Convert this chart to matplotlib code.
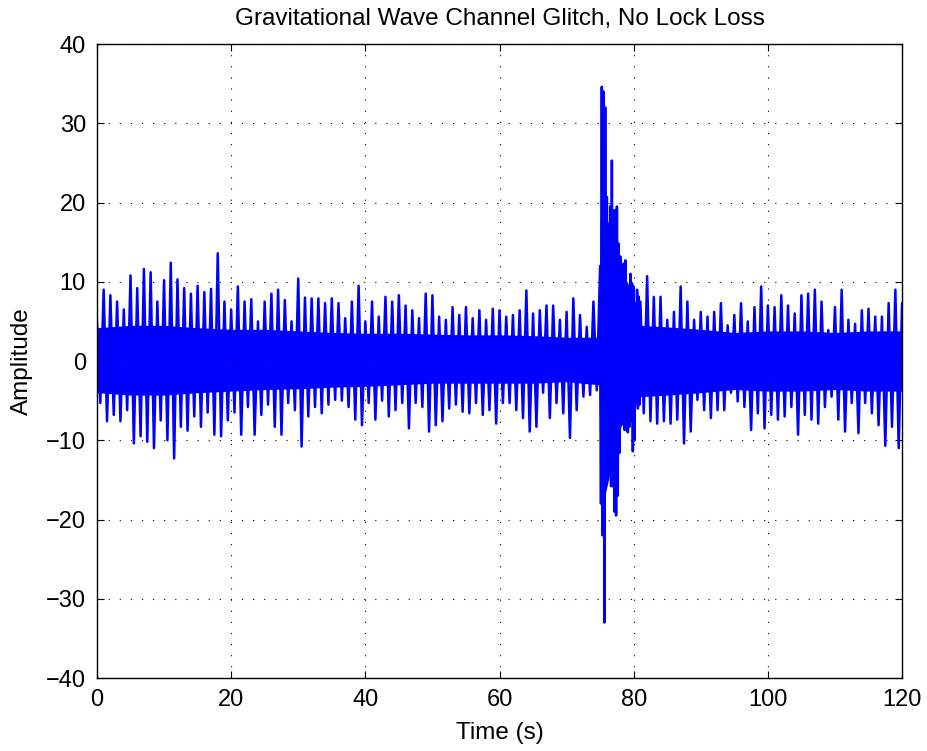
import matplotlib
matplotlib.use("Agg")
import matplotlib.pyplot as plt
import numpy as np

# peak (upper) and trough (lower) amplitude per 1 s window
calm_t = np.arange(0, 75)
calm_upper = [5.0, 9.0, 8.3, 7.5, 6.5, 10.8, 9.2, 11.6, 11.2, 7.5,
              10.2, 12.4, 10.3, 9.2, 8.5, 9.5, 8.7, 9.1, 13.6, 7.5,
              6.5, 9.4, 7.5, 7.8, 5.0, 7.5, 8.5, 9.0, 7.7, 5.0,
              10.4, 8.0, 7.9, 7.9, 7.3, 7.9, 7.3, 5.4, 7.5, 9.5,
              5.0, 7.5, 5.6, 8.1, 7.5, 8.3, 7.0, 6.4, 5.4, 8.5,
              8.3, 5.6, 5.2, 6.8, 5.8, 6.8, 5.4, 6.4, 5.2, 6.6,
              6.4, 5.6, 5.8, 6.4, 8.9, 6.0, 6.4, 7.0, 7.0, 5.2,
              6.2, 7.9, 5.8, 4.3, 7.5]
calm_lower = [-5.3, -7.6, -6.8, -7.6, -6.2, -10.4, -9.5, -10.2, -11.0, -7.5,
              -10.0, -12.3, -8.3, -8.8, -7.0, -8.3, -6.5, -9.3, -9.5, -7.5,
              -6.5, -9.3, -5.8, -9.3, -6.8, -5.5, -8.3, -9.3, -5.3, -6.2,
              -10.8, -7.0, -5.8, -6.6, -5.5, -4.9, -5.0, -5.8, -7.4, -8.1,
              -5.3, -7.4, -5.0, -7.0, -6.2, -5.3, -8.5, -5.3, -5.8, -8.9,
              -8.1, -7.6, -6.0, -5.5, -6.4, -6.6, -5.3, -6.8, -6.2, -7.9,
              -5.3, -5.3, -6.2, -7.2, -8.9, -8.3, -4.0, -7.2, -5.3, -6.6,
              -9.7, -6.2, -4.5, -4.3, -3.7]

# glitch, 0.25 s windows
glitch_t = np.arange(75.0, 81.0, 0.25)
glitch_upper = [12.0, 34.6, 34.0, 32.0, 20.7, 15.7, 19.5, 25.3, 19.0, 19.0,
                19.5, 14.8, 13.2, 10.6, 12.3, 12.7, 9.8, 9.4, 11.0, 9.8,
                9.4, 7.3, 9.0, 8.1]
glitch_lower = [-18.0, -22.0, -33.0, -15.0, -10.8, -13.7, -15.8, -15.8, -19.0, -19.5,
                -17.0, -11.6, -7.0, -6.6, -8.7, -8.7, -9.0, -8.3, -7.5, -11.4,
                -10.0, -5.3, -6.0, -5.5]

after_t = np.arange(81, 121)
after_upper = [7.5, 10.7, 8.1, 8.1, 5.2, 6.2, 9.4, 7.5, 5.2, 6.2,
               5.6, 6.2, 7.3, 4.5, 5.8, 7.3, 5.0, 6.8, 9.4, 7.0,
               6.8, 8.3, 7.0, 6.0, 8.3, 8.5, 9.0, 7.5, 3.9, 6.8,
               9.0, 5.2, 4.7, 6.4, 6.6, 5.6, 5.6, 7.3, 9.0, 7.3]
after_lower = [-6.6, -7.6, -7.9, -7.6, -7.9, -7.4, -10.4, -8.9, -4.9, -6.2,
               -7.2, -6.2, -6.2, -4.0, -5.1, -5.8, -8.7, -6.6, -8.5, -6.8,
               -7.4, -7.0, -5.8, -9.3, -6.8, -7.4, -7.9, -5.8, -4.5, -7.4,
               -8.9, -5.3, -9.1, -5.3, -6.6, -8.1, -10.7, -8.3, -11.0, -6.2]

# edges of the solid (densely over-drawn) part of the trace
core_t = [0, 5, 10, 15, 20, 25, 30, 35, 40, 45, 50, 55, 60, 65, 70, 74.8,
          75.0, 75.7, 76.5, 77.5, 77.6, 78.3, 80, 81, 85, 90, 95, 100, 105,
          110, 115, 120]
core_hi = [4.2, 4.5, 4.5, 4.2, 4.0, 4.0, 3.8, 3.6, 3.5, 3.5, 3.4, 3.3, 3.3,
           3.2, 3.0, 3.0, 18.0, 17.0, 18.0, 16.0, 11.0, 9.0, 6.0, 4.5, 4.3,
           4.0, 3.6, 3.8, 3.8, 3.6, 3.8, 3.8]
core_lo = [-4.0, -4.3, -4.3, -4.0, -3.8, -3.6, -3.5, -3.3, -3.2, -3.0, -2.8,
           -2.8, -2.8, -2.8, -2.6, -3.0, -17.0, -17.0, -14.0, -12.0, -9.0,
           -8.0, -5.5, -4.5, -4.3, -4.0, -3.6, -3.8, -3.8, -3.6, -3.8, -3.8]


def zigzag(t, upper, lower, step):
    """Alternate peak and trough so the trace sweeps its envelope."""
    t = np.asarray(t, dtype=float)
    xs = np.column_stack([t, t + step / 2]).ravel()
    ys = np.column_stack([upper, lower]).ravel()
    return xs, ys


segments = [
    zigzag(calm_t, calm_upper, calm_lower, 1.0),
    zigzag(glitch_t, glitch_upper, glitch_lower, 0.25),
    zigzag(after_t, after_upper, after_lower, 1.0),
]
time = np.concatenate([s[0] for s in segments])
amp = np.concatenate([s[1] for s in segments])

plt.rcParams["font.family"] = ["Liberation Sans", "DejaVu Sans"]

fig = plt.figure(figsize=(9.27, 7.51), dpi=100)
ax = fig.add_axes([0.1046, 0.0972, 0.8685, 0.8442])
ax.fill_between(core_t, core_lo, core_hi, color="#0000ff", linewidth=0)
ax.plot(time, amp, color="#0000ff", linewidth=1.8)

ax.set_xlim(0, 120)
ax.set_ylim(-40, 40)
ax.set_xticks(np.arange(0, 121, 20))
ax.set_yticks(np.arange(-40, 41, 10))
ax.grid(True, color="black", linestyle=(0, (1, 9)), linewidth=0.8)
ax.tick_params(direction="in", top=True, right=True, length=5, width=0.8,
               labelsize=17, pad=8)
for s in ax.spines.values():
    s.set_linewidth(1.0)

ax.set_xlabel("Time (s)", fontsize=17.5, labelpad=8)
ax.set_ylabel("Amplitude", fontsize=17.5, labelpad=9)
ax.set_title("Gravitational Wave Channel Glitch, No Lock Loss", fontsize=17.5, pad=14)

fig.savefig("out.png", dpi=100)
